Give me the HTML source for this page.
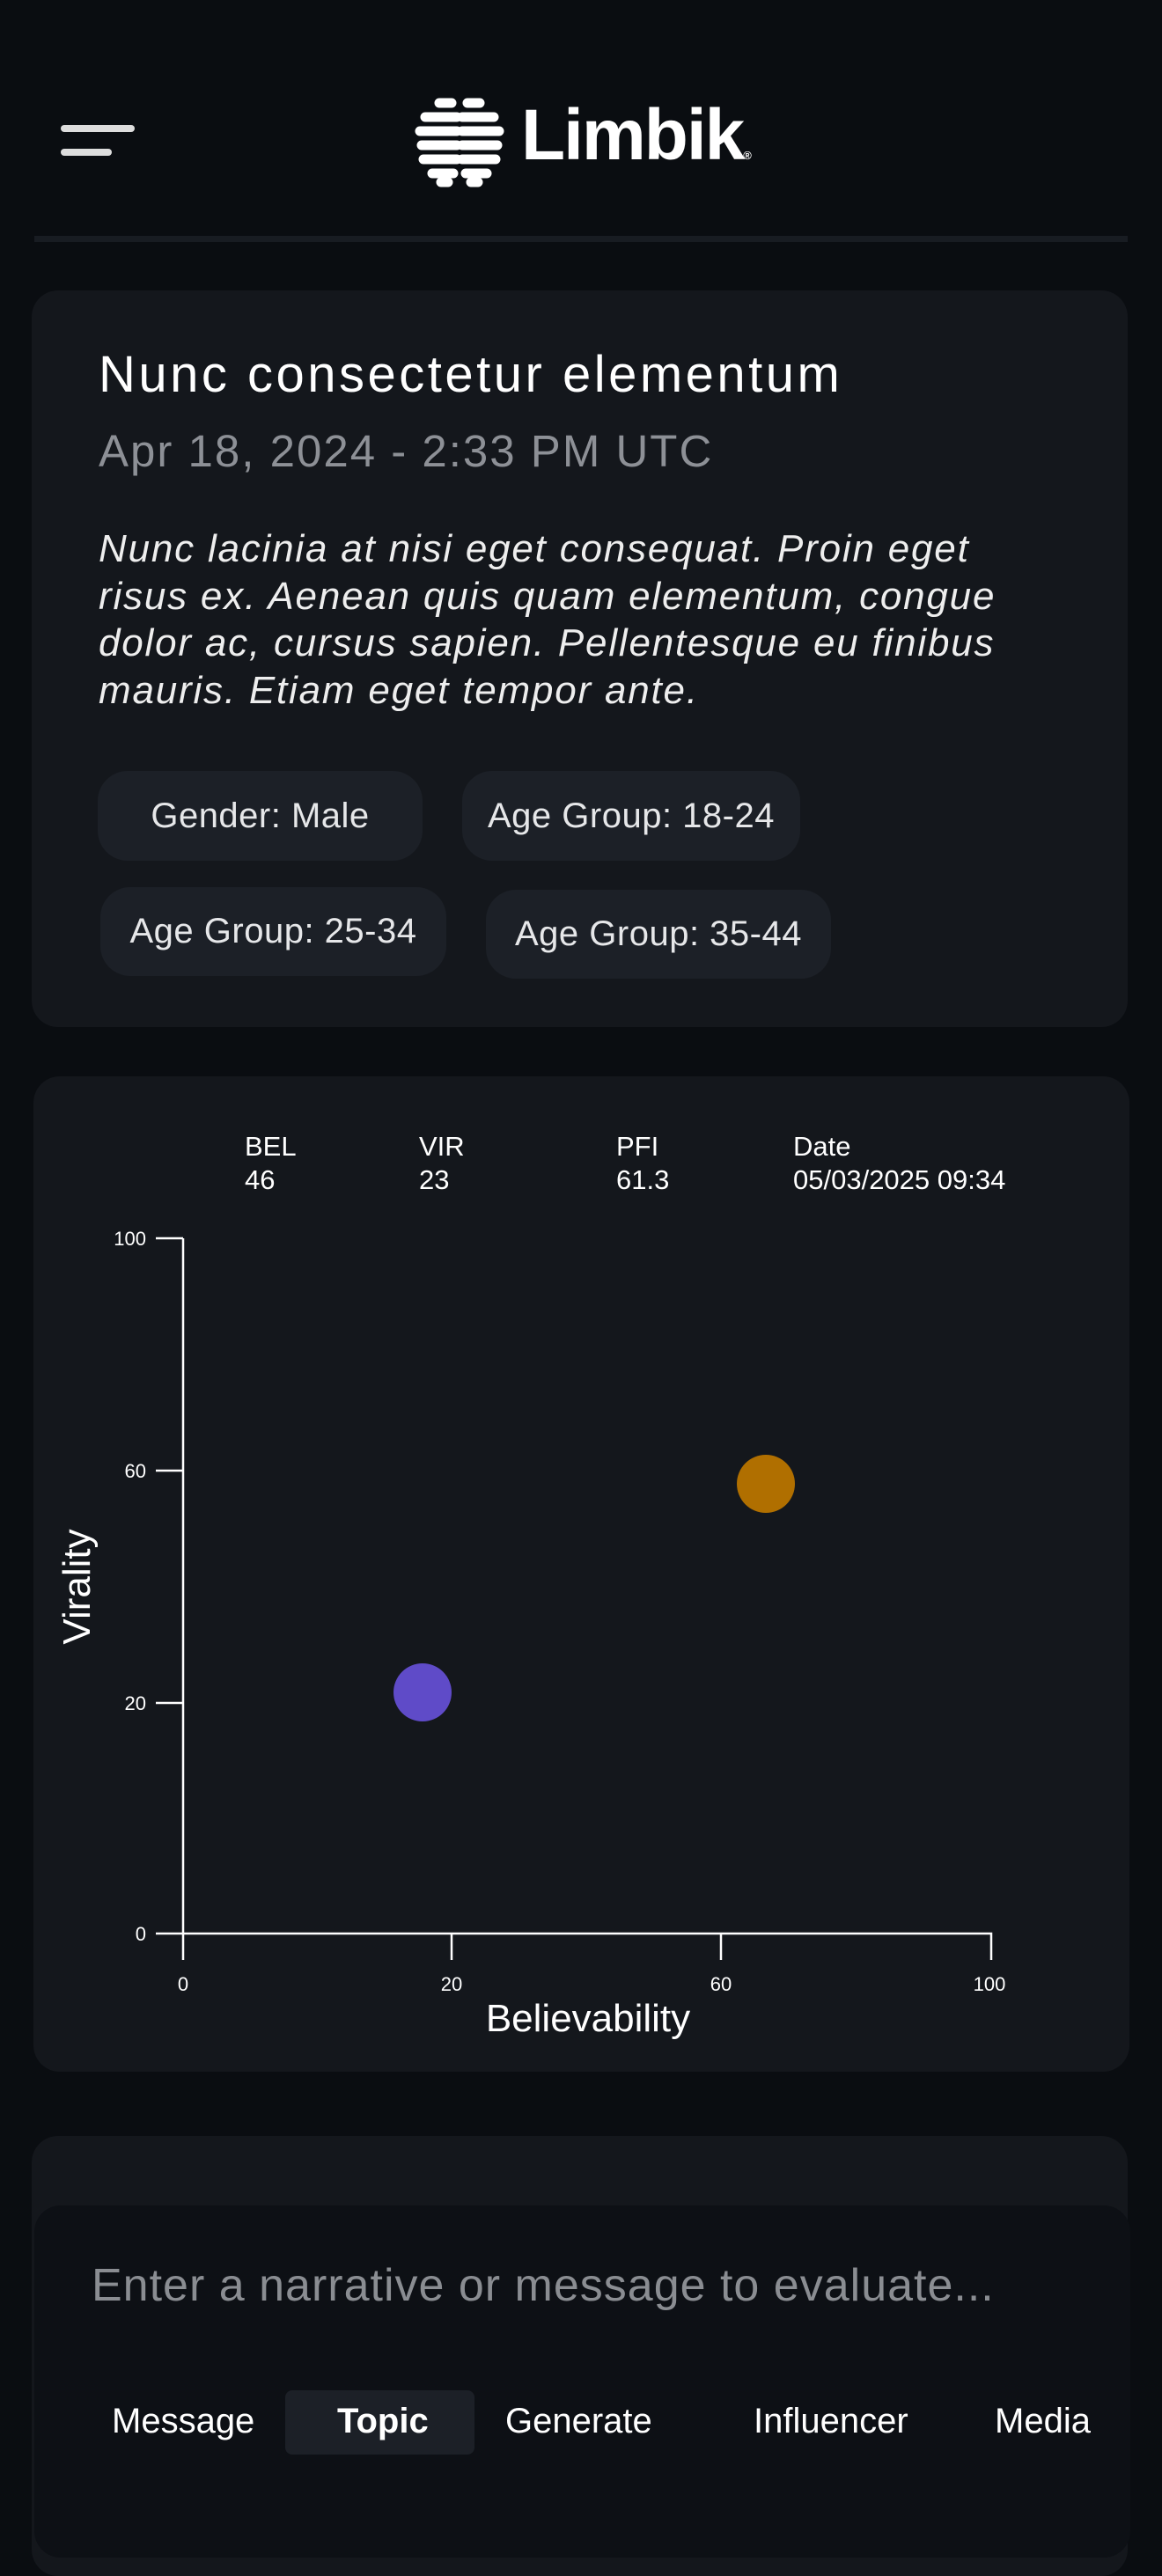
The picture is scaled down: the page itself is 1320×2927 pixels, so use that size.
<!DOCTYPE html>
<html><head><meta charset="utf-8"><style>
*{margin:0;padding:0;box-sizing:border-box}
body{width:1320px;height:2868px;background:#0a0d11;font-family:"Liberation Sans",sans-serif;color:#fff;position:relative;overflow:hidden}
.a{position:absolute;white-space:nowrap}
.card{position:absolute;background:#14171c;border-radius:30px}
.chip{position:absolute;background:#1c2027;border-radius:34px;font-size:40px;color:#e6e7e9;display:flex;align-items:center;justify-content:center;letter-spacing:0.5px}
</style></head><body>
<div class="a" style="left:69px;top:142px;width:84px;height:8px;background:#ddd;border-radius:4px"></div>
<div class="a" style="left:69px;top:169px;width:58px;height:8px;background:#ddd;border-radius:4px"></div>
<svg class="a" style="left:469px;top:109px" width="106" height="104" viewBox="0 0 106 104">
<g stroke="#fff" stroke-width="11" stroke-linecap="round" fill="none">
<path d="M44 8 H30 M50 24 H14 M50 40 H8 M50 56 H10 M50 72 H12 M46 88 H22 M40 98 H32"/>
<path d="M62 8 H76 M56 24 H92 M56 40 H98 M56 56 H96 M56 72 H94 M60 88 H84 M66 98 H74"/>
</g></svg>
<div class="a" style="left:592px;top:107px;font-size:82px;font-weight:bold;letter-spacing:-2px">Limbik<span style="font-size:13px">®</span></div>
<div class="a" style="left:39px;top:268px;width:1242px;height:7px;background:#181c22"></div>

<div class="card" style="left:36px;top:330px;width:1245px;height:837px"></div>
<div class="a" style="left:112px;top:392px;font-size:58px;letter-spacing:3.5px">Nunc consectetur elementum</div>
<div class="a" style="left:112px;top:483px;font-size:51px;letter-spacing:2px;color:#8d9096">Apr 18, 2024 - 2:33 PM UTC</div>
<div class="a" style="left:112px;top:597px;font-size:44px;font-style:italic;line-height:53.5px;letter-spacing:1.8px;color:#eee">Nunc lacinia at nisi eget consequat. Proin eget<br>risus ex. Aenean quis quam elementum, congue<br>dolor ac, cursus sapien. Pellentesque eu finibus<br>mauris. Etiam eget tempor ante.</div>
<div class="chip" style="left:111px;top:876px;width:369px;height:102px">Gender: Male</div>
<div class="chip" style="left:525px;top:876px;width:384px;height:102px">Age Group: 18-24</div>
<div class="chip" style="left:114px;top:1008px;width:393px;height:101px">Age Group: 25-34</div>
<div class="chip" style="left:552px;top:1011px;width:392px;height:101px">Age Group: 35-44</div>

<div class="card" style="left:38px;top:1223px;width:1245px;height:1131px"></div>
<div class="a" style="left:278px;top:1284px;font-size:31px;line-height:38px">BEL<br>46</div>
<div class="a" style="left:476px;top:1284px;font-size:31px;line-height:38px">VIR<br>23</div>
<div class="a" style="left:700px;top:1284px;font-size:31px;line-height:38px">PFI<br>61.3</div>
<div class="a" style="left:901px;top:1284px;font-size:31px;line-height:38px">Date<br>05/03/2025 09:34</div>
<svg class="a" style="left:0;top:0" width="1320" height="2400">
<g stroke="#fff" stroke-width="2.5" fill="none">
<path d="M208 1407 V2197 H1126 V2227 M177 1407 H208 M177 1671 H208 M177 1935 H208 M177 2197 H208 M208 2197 V2227 M513 2197 V2227 M819 2197 V2227"/>
</g>
<g fill="#fff" font-family="Liberation Sans, sans-serif" font-size="22" text-anchor="end">
<text x="166" y="1415">100</text><text x="166" y="1679">60</text><text x="166" y="1943">20</text><text x="166" y="2205">0</text>
</g>
<g fill="#fff" font-family="Liberation Sans, sans-serif" font-size="22" text-anchor="middle">
<text x="208" y="2262">0</text><text x="513" y="2262">20</text><text x="819" y="2262">60</text><text x="1124" y="2262">100</text>
</g>
<text x="668" y="2308" fill="#fff" font-family="Liberation Sans, sans-serif" font-size="44" text-anchor="middle">Believability</text>
<text transform="translate(102 1803) rotate(-90)" fill="#fff" font-family="Liberation Sans, sans-serif" font-size="44" text-anchor="middle">Virality</text>
<circle cx="480" cy="1923" r="33" fill="#5f4bc8"/>
<circle cx="870" cy="1686" r="33" fill="#b06f00"/>
</svg>

<div class="card" style="left:36px;top:2427px;width:1245px;height:500px"></div>
<div class="a" style="left:39px;top:2506px;width:1245px;height:400px;background:#0d1015;border-radius:30px"></div>
<div class="a" style="left:104px;top:2567px;font-size:52px;letter-spacing:1px;color:#8a8d92">Enter a narrative or message to evaluate...</div>
<div class="a" style="left:324px;top:2716px;width:215px;height:73px;background:#1c2027;border-radius:8px"></div>
<div class="a" style="left:127px;top:2729px;font-size:40px">Message</div>
<div class="a" style="left:383px;top:2729px;font-size:40px;font-weight:bold">Topic</div>
<div class="a" style="left:574px;top:2729px;font-size:40px">Generate</div>
<div class="a" style="left:856px;top:2729px;font-size:40px">Influencer</div>
<div class="a" style="left:1130px;top:2729px;font-size:40px">Media</div>
</body></html>
